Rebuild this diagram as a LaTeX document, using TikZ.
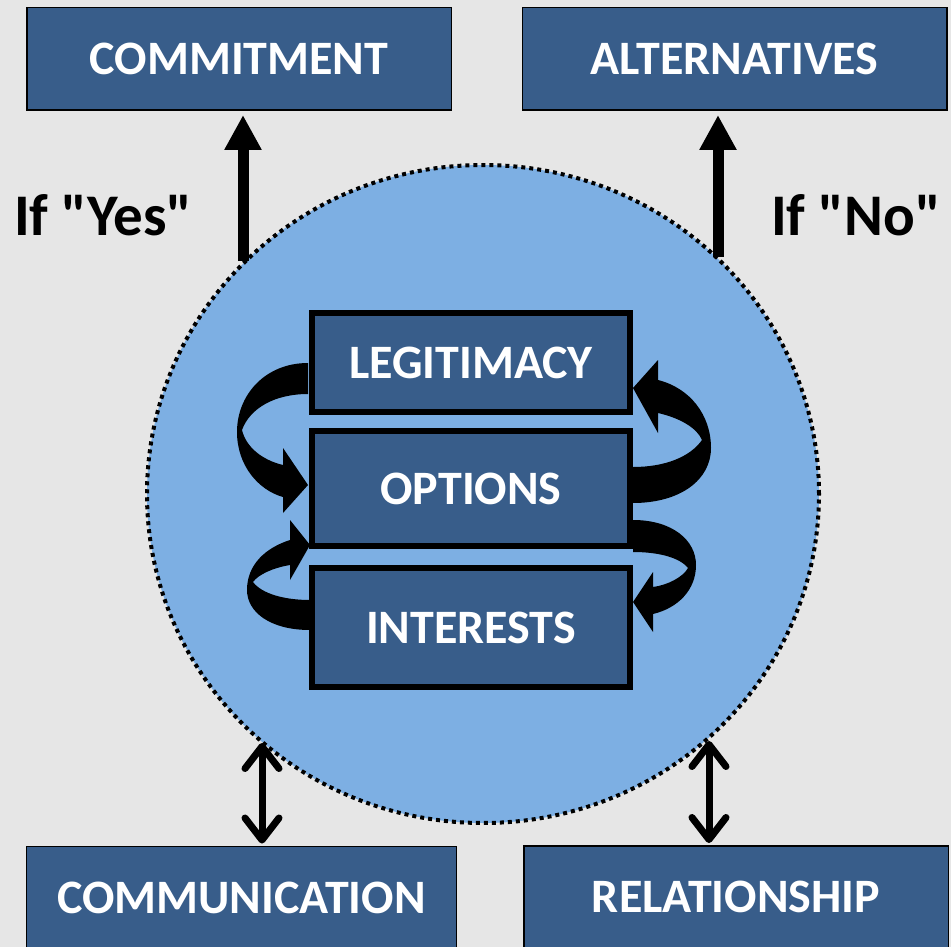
\documentclass[tikz,border=0pt]{standalone}
\usepackage{fontspec}
\setmainfont{Carlito}[Ligatures=TeXOff]
\usepackage{tikz}
\usetikzlibrary{positioning, shapes.geometric, arrows.meta, calc}
\definecolor{boxfill}{HTML}{385D8A}
\definecolor{poolfill}{HTML}{7DAFE3}
\definecolor{paper}{HTML}{E6E6E6}

\begin{document}
\begin{tikzpicture}[x=1pt,y=-1pt,
 bx/.style={draw=black, line width=1.5pt, fill=boxfill, text=white, minimum width=424.5pt, minimum height=102.5pt, inner sep=0pt, font=\fontsize{48}{52}\selectfont\bfseries},
 ibx/.style={draw=black, line width=6pt, fill=boxfill, text=white, minimum width=318pt, inner sep=0pt, font=\fontsize{48}{52}\selectfont\bfseries},
 curl/.style={fill=black},
 up/.style={line width=11pt, -{Triangle[width=35pt,length=35pt]}, shorten >=4pt},
 both/.style={line width=7pt, {Straight Barb[length=22pt,width=34pt,round]}-{Straight Barb[length=22pt,width=34pt,round]}, shorten >=2pt},
 tag/.style={anchor=base west, inner sep=0pt, font=\fontsize{59}{62}\selectfont\bfseries}]
\fill[paper](0,0) rectangle (951,947);
\useasboundingbox (0,0) rectangle (951,947);

\node[ellipse, draw, fill=poolfill, line width=4pt, dash pattern=on 4pt off 4pt, minimum width=672pt, minimum height=658pt, inner sep=0pt](pool) at (483,494){};

% feedback curls round the three stages
\fill[curl](308,363) .. controls (265,363) and (237,395) .. (237,432) .. controls (237,465) and (258,490) .. (283,497) -- (283,513) -- (308,485) -- (283,448) -- (283,465) .. controls (262,460) and (246,447) .. (242,430) .. controls (250,408) and (275,394) .. (308,394) -- cycle;
\fill[curl](310,630) .. controls (270,630) and (247,612) .. (247,590) .. controls (247,565) and (265,548) .. (290,540) -- (290,520) -- (310,545) -- (290,580) -- (290,565) .. controls (272,568) and (258,575) .. (253,582) .. controls (262,594) and (285,600) .. (310,600) -- cycle;
\fill[curl](633,503) .. controls (680,503) and (711,480) .. (711,448) .. controls (711,415) and (690,388) .. (658,380) -- (658,360) -- (633,388) -- (658,433) -- (658,413) .. controls (680,418) and (697,428) .. (702,440) .. controls (690,457) and (665,467) .. (633,467) -- cycle;
\fill[curl](633,520) .. controls (672,520) and (696,540) .. (696,565) .. controls (696,590) and (678,608) .. (653,614) -- (653,632) -- (633,602) -- (653,572) -- (653,587) .. controls (668,585) and (683,577) .. (688,568) .. controls (680,558) and (660,552) .. (633,552) -- cycle;

\node[ibx, minimum height=99pt](legit) at (471,362.5){LEGITIMACY};
\node[ibx, minimum height=115pt, below=13pt of legit](opts){OPTIONS};
\node[ibx, minimum height=119pt, below=16pt of opts](inter){INTERESTS};

\node[bx](commit) at (239,59){COMMITMENT};
\node[bx](altern) at (734.5,59){ALTERNATIVES};
\node[bx, minimum width=430pt](comm) at (241.5,897.5){COMMUNICATION};
\node[bx](relat) at (736,897){RELATIONSHIP};

\coordinate (yesfoot) at (243,261);
\coordinate (nofoot) at (718,257);
\coordinate (commfoot) at (262,743);
\coordinate (relfoot) at (709,741);
\draw[up](yesfoot) -- (yesfoot |- commit.south);
\draw[up](nofoot) -- (nofoot |- altern.south);
\draw[both](commfoot) -- (commfoot |- comm.north);
\draw[both](relfoot) -- (relfoot |- relat.north);

\node[tag](yes) at (14,235){If "Yes"};
\node[tag](no) at (771,235){If "No"};

\end{tikzpicture}
\end{document}
